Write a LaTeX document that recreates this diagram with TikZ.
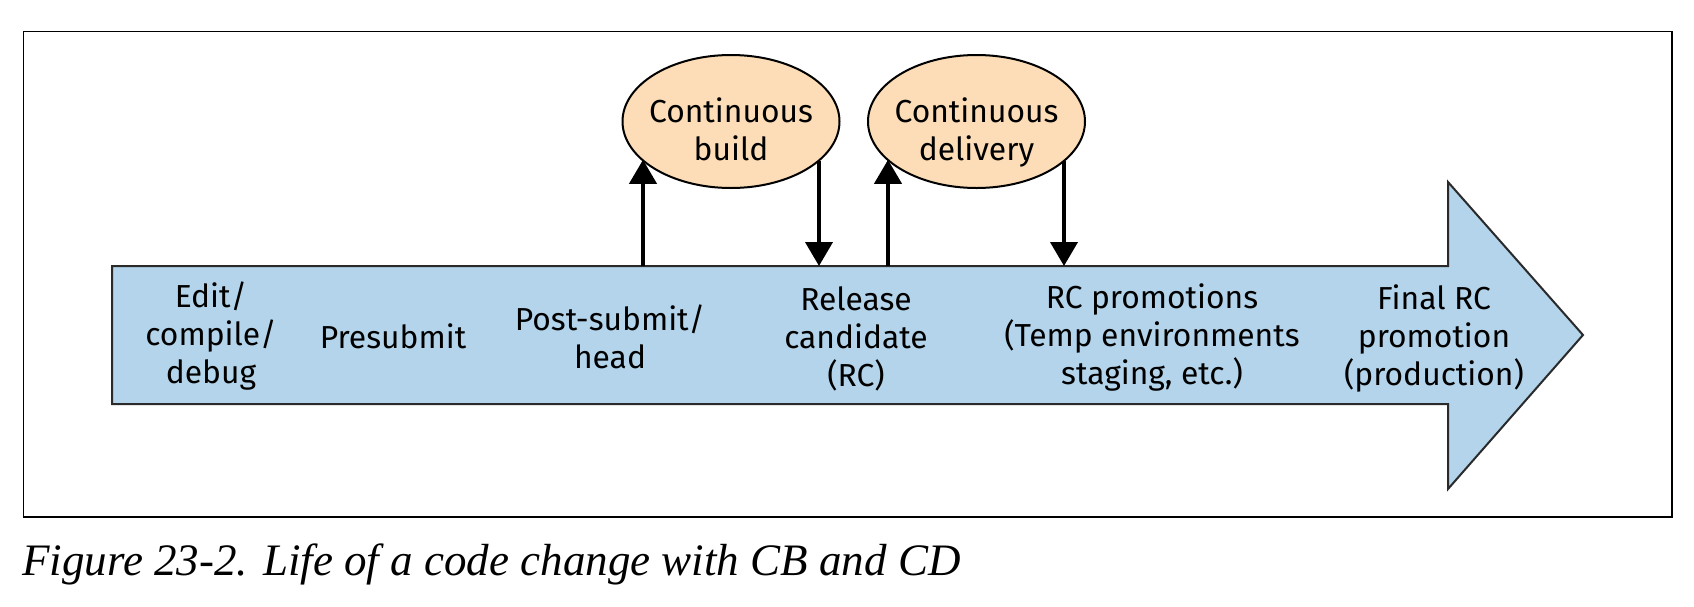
\documentclass[tikz,border=0pt]{standalone}
\usepackage{fontspec}
\setsansfont{Fira Sans}
\newfontfamily\capfont{Liberation Serif}
\usetikzlibrary{shapes.geometric,arrows.meta}
\definecolor{bodyblue}{HTML}{B3D4EA}
\definecolor{peach}{HTML}{FCDDB7}
\definecolor{edge}{HTML}{2A2A2A}
\begin{document}
\begin{tikzpicture}[x=0.5pt,y=-0.5pt,
  lbl/.style={font=\sffamily\fontsize{15.9}{19}\selectfont, align=center, anchor=base, inner sep=0pt},
  oval/.style={ellipse, draw=black, line width=1pt, fill=peach, minimum width=108.5pt, minimum height=66.5pt, inner sep=0pt},
  conn/.style={line width=2pt, -{Triangle[width=13.5pt,length=12pt]}},
  capstyle/.style={font=\capfont\itshape\fontsize{22.5}{26}\selectfont, anchor=base west, inner sep=0pt}]
\useasboundingbox (0,0) rectangle (1694,606);
% frame
\draw[line width=0.6pt] (23.5,31.5) rectangle (1672,517);
% big arrow
\draw[fill=bodyblue, draw=edge, line width=1pt, line join=miter]
  (112,266) -- (1448,266) -- (1448,182) -- (1583,335) -- (1448,489) -- (1448,404) -- (112,404) -- cycle;
% connector end points on the arrow body
\coordinate (b1) at (643,266);
\coordinate (b2) at (819,266);
\coordinate (b3) at (888,266);
\coordinate (b4) at (1064,266);
% ellipses
\node[oval] (cb) at (731,121.5) {};
\node[oval] (cd) at (976.5,121.5) {};
\node[lbl] (cbt) at (731,160) {Continuous\\build};
\node[lbl] (cdt) at (976.5,160) {Continuous\\delivery};
% connectors
\draw[conn] (b1) -- (b1 |- cb.203.85);
\draw[conn] (b2 |- cb.336.15) -- (b2);
\draw[conn] (b3) -- (b3 |- cd.203.85);
\draw[conn] (b4 |- cd.336.15) -- (b4);
% stage labels (anchored at the baseline of the last line)
\node[lbl] (s1) at (211,383) {Edit/\\compile/\\debug};
\node[lbl] (s2) at (393,348) {Presubmit};
\node[lbl] (s3) at (610,368) {Post-submit/\\head};
\node[lbl] (s4) at (856,386) {Release\\candidate\\(RC)};
\node[lbl] (s5) at (1152,384) {RC promotions\\(Temp environments\\staging, etc.)};
\node[lbl] (s6) at (1434,385) {Final RC\\promotion\\(production)};
% caption
\node[capstyle] (cap) at (22,575) {Figure 23-2. Life of a code change with CB and CD};
\end{tikzpicture}
\end{document}
